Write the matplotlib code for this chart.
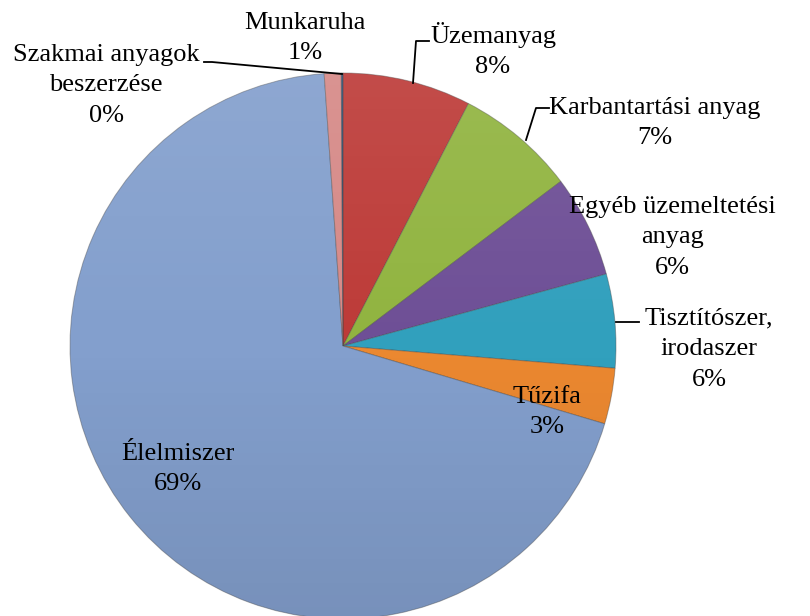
import matplotlib.pyplot as plt
import numpy as np

plt.rcParams['font.family'] = ['Liberation Serif', 'DejaVu Serif']

# slices clockwise from 12 o'clock
labels = ["Üzemanyag", "Karbantartási anyag", "Egyéb üzemeltetési\nanyag",
          "Tisztítószer,\nirodaszer", "Tűzifa", "Élelmiszer", "Munkaruha",
          "Szakmai anyagok\nbeszerzése"]
values = [7.6, 7.1, 6.05, 5.55, 3.3, 69.3, 1.0, 0.1]
colors = ["#BD3B38", "#91B440", "#6E4F96", "#31A0BD", "#EB8830",
          "#839FCD", "#D68987", "#2C4D75"]

# label anchor positions (pixels) and leader lines
label_pos = [(493, 50), (655, 123), (672, 237), (709, 349), (547, 412),
             (178, 469), (305, 38), (106, 85)]
leaders = {
    0: [(429, 41), (416, 41), (413, 83)],
    1: [(549, 108), (536, 108), (526, 140)],
    3: [(616, 322), (639, 322)],
    7: [(204, 62), (212, 62), (342, 74)],
}

W, H = 810, 616
fig = plt.figure(figsize=(W / 100, H / 100), dpi=100)
ax = fig.add_axes([0, 0, 1, 1])

cx, cy, r = 343, H - 346, 273
wedges, _ = ax.pie(values, colors=colors, startangle=90, counterclock=False,
                   center=(cx, cy), radius=r, frame=True,
                   wedgeprops=dict(edgecolor='#44444466', linewidth=0.7))

# soft lighting: lighter top, darker bottom, clipped to the pie
grad = np.linspace(0, 1, 256).reshape(-1, 1)
shade = np.zeros((256, 1, 4))
shade[:, 0, :3] = np.where(grad > 0.5, 1.0, 0.0)
shade[:, 0, 3] = np.abs(grad[:, 0] - 0.5) * 0.18
img = ax.imshow(shade, extent=(cx - r, cx + r, cy - r, cy + r), origin='lower',
                aspect='auto', zorder=3, interpolation='bilinear')
circle = plt.Circle((cx, cy), r, transform=ax.transData)
img.set_clip_path(circle)
ax.set_xlim(0, W)
ax.set_ylim(0, H)
ax.set_aspect('equal')
ax.axis('off')

for i, (lab, v) in enumerate(zip(labels, values)):
    x, y = label_pos[i]
    ax.text(x, H - y, f"{lab}\n{round(v):d}%", ha='center', va='center',
            fontsize=19, linespacing=1.5, color='black', zorder=5)

for pts in leaders.values():
    xs = [p[0] for p in pts]
    ys = [H - p[1] for p in pts]
    ax.plot(xs, ys, color='black', lw=1.3, zorder=4)

fig.savefig("out.png", dpi=100)
